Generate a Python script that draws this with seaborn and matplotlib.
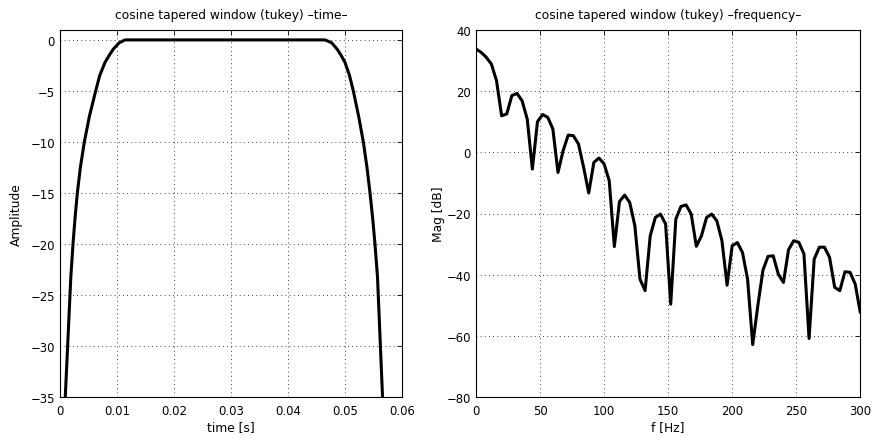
import numpy as np
import pandas as pd
import matplotlib
matplotlib.use("Agg")
import matplotlib.pyplot as plt
import seaborn as sns

# ---- data: left panel (time-domain window, dB) ----
time_s = [0.0008, 0.0019, 0.00228, 0.00263, 0.00304, 0.00357, 0.00427, 0.00515,
          0.00626, 0.00696, 0.0079, 0.00865, 0.00935, 0.0104, 0.0114,
          0.0465, 0.04766, 0.04865, 0.0493, 0.0500, 0.0508, 0.05146, 0.0524, 0.05322,
          0.05386, 0.05439, 0.05486, 0.05526, 0.0557, 0.0567]
amp_db = [-36.5, -23.2, -20.0, -17.5, -15.0, -12.5, -10.0, -7.5,
          -5.0, -3.5, -2.2, -1.5, -0.9, -0.28, 0.0,
          0.0, -0.28, -0.93, -1.5, -2.2, -3.5, -5.0, -7.5, -10.0,
          -12.5, -15.0, -17.5, -20.0, -23.2, -36.5]

# ---- data: right panel (magnitude spectrum, dB) ----
freq_hz = np.arange(0, 301, 4)
mag_db = [33.7, 32.6, 31.0, 28.8, 23.4, 11.9, 12.5, 18.5, 19.2, 16.8,
          10.8, -5.5, 10.0, 12.3, 11.4, 7.6, -6.6, 0.5, 5.6, 5.4,
          2.7, -4.9, -13.3, -3.3, -1.9, -3.8, -9.3, -30.8, -16.1, -14.0,
          -16.4, -24.0, -41.4, -45.2, -27.3, -21.3, -20.2, -23.4, -49.6, -21.8,
          -17.7, -17.2, -20.2, -30.7, -27.3, -21.3, -20.2, -22.4, -28.9, -43.4,
          -30.5, -29.5, -32.7, -41.4, -62.8, -50.1, -38.5, -34.0, -33.8, -39.8,
          -42.5, -31.8, -28.9, -29.4, -33.2, -60.8, -34.9, -31.0, -31.0, -34.3,
          -44.1, -45.2, -39.0, -39.2, -43.0, -52.3]

left_xticks = [0, 0.01, 0.02, 0.03, 0.04, 0.05, 0.06]
left_xticklabels = ["0", "0.01", "0.02", "0.03", "0.04", "0.05", "0.06"]
left_yticks = [0, -5, -10, -15, -20, -25, -30, -35]
right_xticks = [0, 50, 100, 150, 200, 250, 300]
right_yticks = [40, 20, 0, -20, -40, -60, -80]

sns.set_theme(style="white")
plt.rcParams['font.family'] = ['DejaVu Sans']
plt.rcParams['axes.unicode_minus'] = True
plt.rcParams['text.color'] = 'black'
plt.rcParams['axes.labelcolor'] = 'black'
plt.rcParams['axes.titlecolor'] = 'black'

fs_tick = 8.4
fs_title = 8.8
fs_label = 8.8

fig = plt.figure(figsize=(8.72, 4.39), dpi=100)
ax1 = fig.add_axes([60/872, 1-398.3/439, (402-60)/872, (398.3-30.7)/439])
ax2 = fig.add_axes([476/872, 1-398.3/439, (860.3-476)/872, (398.3-30.7)/439])

df1 = pd.DataFrame({"t": time_s, "a": amp_db})
df2 = pd.DataFrame({"f": freq_hz, "m": mag_db})
sns.lineplot(data=df1, x="t", y="a", ax=ax1, color="black", lw=2.2,
             estimator=None, sort=False)
sns.lineplot(data=df2, x="f", y="m", ax=ax2, color="black", lw=2.2,
             estimator=None, sort=False)

ax1.set_xlim(0, 0.06)
ax1.set_ylim(-35, 1)
ax1.set_xticks(left_xticks)
ax1.set_xticklabels(left_xticklabels)
ax1.set_yticks(left_yticks)
ax1.set_title("cosine tapered window (tukey) \u2013time\u2013", fontsize=fs_title,
              pad=8.3, color="black")
ax1.set_xlabel("time [s]", fontsize=fs_label, color="black")
ax1.set_ylabel("Amplitude", fontsize=fs_label, color="black")
ax1.xaxis.set_label_coords(0.5, -0.061)
ax1.yaxis.set_label_coords(-0.1076, 0.5)

ax2.set_xlim(0, 300)
ax2.set_ylim(-80, 40)
ax2.set_xticks(right_xticks)
ax2.set_yticks(right_yticks)
ax2.set_title("cosine tapered window (tukey) \u2013frequency\u2013", fontsize=fs_title,
              pad=8.3, color="black")
ax2.set_xlabel("f [Hz]", fontsize=fs_label, color="black")
ax2.set_ylabel("Mag [dB]", fontsize=fs_label, color="black")
ax2.xaxis.set_label_coords(0.5, -0.061)
ax2.yaxis.set_label_coords(-0.081, 0.5)

for ax in (ax1, ax2):
    ax.grid(True, color="black", linestyle=(0, (1, 4)), linewidth=0.6)
    ax.set_axisbelow(True)
    ax.tick_params(direction="in", length=3.5, width=0.6, labelsize=fs_tick,
                   top=True, right=True, colors="black")
    ax.tick_params(axis="x", pad=5.1)
    ax.tick_params(axis="y", pad=3.6)
    for s in ax.spines.values():
        s.set_visible(True)
        s.set_color("black")
        s.set_linewidth(0.8)

fig.savefig("out.png", dpi=100)
